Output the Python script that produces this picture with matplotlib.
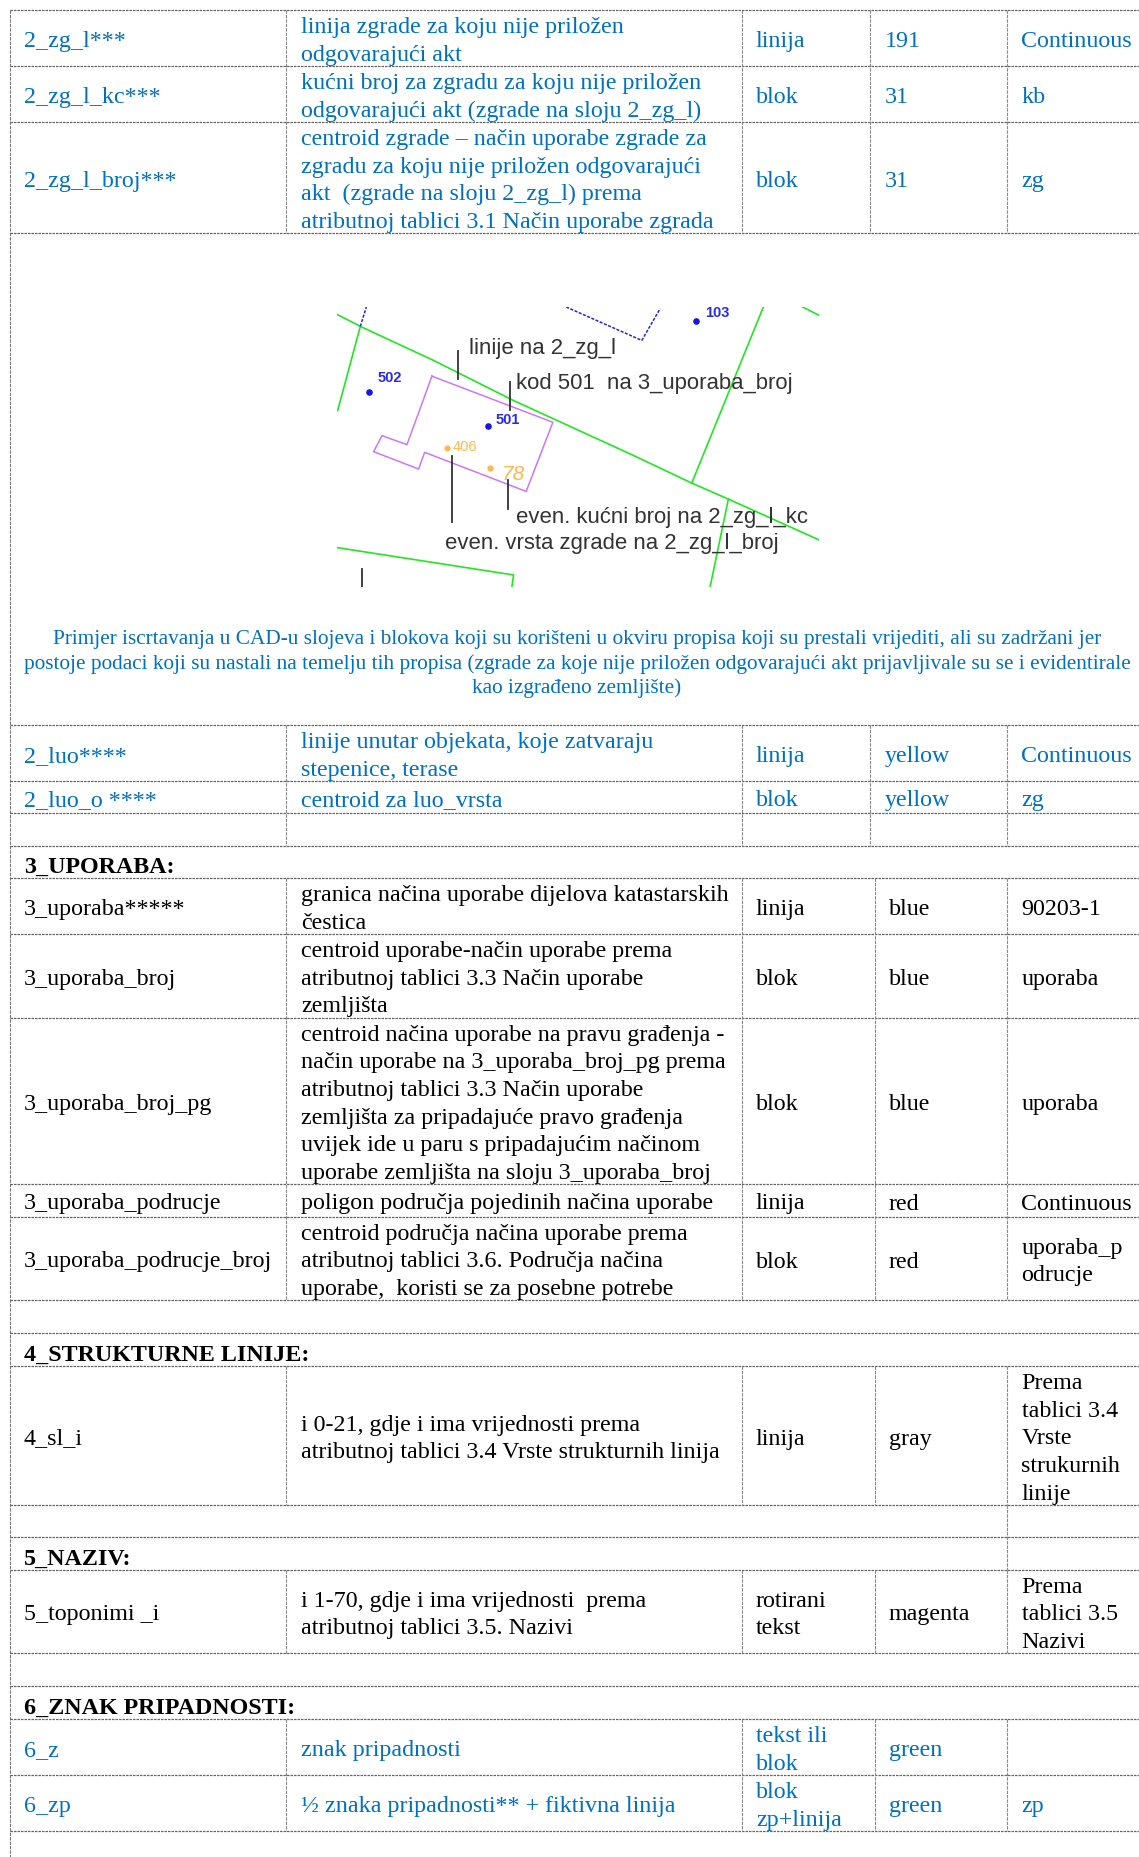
"""Cadastral layer table page with the small CAD example drawing in the middle."""

import matplotlib
matplotlib.use("Agg")
import matplotlib.pyplot as plt

W, H = 1139, 1858
BLUE = "#0070C0"
BLACK = "#000000"
SERIF = ["Liberation Serif", "DejaVu Sans"]
SANS = ["Liberation Sans", "DejaVu Sans"]

# --- table text ---------------------------------------------------------------
layers = ["2_zg_l***", "2_zg_l_kc***", "2_zg_l_broj***", "2_luo****", "2_luo_o ****",
          "3_uporaba*****", "3_uporaba_broj", "3_uporaba_broj_pg", "3_uporaba_podrucje",
          "3_uporaba_podrucje_broj", "4_sl_i", "5_toponimi _i", "6_z", "6_zp"]
descriptions = [
    ["linija zgrade za koju nije priložen", "odgovarajući akt"],
    ["kućni broj za zgradu za koju nije priložen", "odgovarajući akt (zgrade na sloju 2_zg_l)"],
    ["centroid zgrade – način uporabe zgrade za", "zgradu za koju nije priložen odgovarajući",
     "akt  (zgrade na sloju 2_zg_l) prema", "atributnoj tablici 3.1 Način uporabe zgrada"],
    ["linije unutar objekata, koje zatvaraju", "stepenice, terase"],
    ["centroid za luo_vrsta"],
    ["granica načina uporabe dijelova katastarskih", "čestica"],
    ["centroid uporabe-način uporabe prema", "atributnoj tablici 3.3 Način uporabe", "zemljišta"],
    ["centroid načina uporabe na pravu građenja -", "način uporabe na 3_uporaba_broj_pg prema",
     "atributnoj tablici 3.3 Način uporabe", "zemljišta za pripadajuće pravo građenja",
     "uvijek ide u paru s pripadajućim načinom", "uporabe zemljišta na sloju 3_uporaba_broj"],
    ["poligon područja pojedinih načina uporabe"],
    ["centroid područja načina uporabe prema", "atributnoj tablici 3.6. Područja načina",
     "uporabe,  koristi se za posebne potrebe"],
    ["i 0-21, gdje i ima vrijednosti prema", "atributnoj tablici 3.4 Vrste strukturnih linija"],
    ["i 1-70, gdje i ima vrijednosti  prema", "atributnoj tablici 3.5. Nazivi"],
    ["znak pripadnosti"],
    ["½ znaka pripadnosti** + fiktivna linija"],
]
kinds = [["linija"], ["blok"], ["blok"], ["linija"], ["blok"], ["linija"], ["blok"], ["blok"],
         ["linija"], ["blok"], ["linija"], ["rotirani", "tekst"], ["tekst ili", "blok"],
         ["blok", "zp+linija"]]
colours = ["191", "31", "31", "yellow", "yellow", "blue", "blue", "blue", "red", "red",
           "gray", "magenta", "green", "green"]
line_types = [["Continuous"], ["kb"], ["zg"], ["Continuous"], ["zg"], ["90203-1"], ["uporaba"],
              ["uporaba"], ["Continuous"], ["uporaba_p", "odrucje"],
              ["Prema", "tablici 3.4", "Vrste", "strukurnih", "linije"],
              ["Prema", "tablici 3.5", "Nazivi"], [""], ["zp"]]
is_blue = [True] * 5 + [False] * 7 + [True] * 2

row_tops = [11, 67, 123, 726, 782, 879, 935, 1018.5, 1185, 1218, 1367, 1571, 1720, 1776]
row_bottoms = [67, 123, 234, 782, 814, 935, 1018.5, 1185, 1218, 1301, 1506, 1654, 1776, 1832]
colour_x = [885] * 5 + [889] * 9

headings = ["3_UPORABA:", "4_STRUKTURNE LINIJE:", "5_NAZIV:", "6_ZNAK PRIPADNOSTI:"]
heading_tops = [849, 1336, 1540, 1689]
heading_bottoms = [881, 1369, 1573, 1722]

caption = ["Primjer iscrtavanja u CAD-u slojeva i blokova koji su korišteni u okviru propisa koji su prestali vrijediti, ali su zadržani jer",
           "postoje podaci koji su nastali na temelju tih propisa (zgrade za koje nije priložen odgovarajući akt prijavljivale su se i evidentirale",
           "kao izgrađeno zemljište)"]
caption_y = [638, 662.5, 687]

# --- grid -----------------------------------------------------------------------
h_lines = [11, 67, 123, 234, 726, 782, 814, 847, 879, 935, 1018.5, 1185, 1218, 1301, 1334,
           1367, 1506, 1538, 1571, 1654, 1687, 1720, 1776, 1832]
# (top, bottom, column x positions)
v_spans = [(11, 234, [286, 742, 870, 1007]),
           (726, 847, [286, 742, 870, 1007]),
           (879, 1301, [286, 742, 874.5, 1007]),
           (1367, 1506, [286, 742, 874.5, 1007]),
           (1506, 1571, [1007]),
           (1571, 1654, [286, 742, 874.5, 1007]),
           (1720, 1832, [286, 742, 874.5, 1007])]
left_x = 9.5

# --- example drawing, in its own picture coordinates ----------------------------
green_lines = [([50, 120, 340, 580, 935, 1115, 1225, 1497], [77, 113, 215, 335, 497, 582, 630, 752]),
               ([52, 120], [365, 113]),
               ([1115, 1330], [582, 55]),
               ([1448, 1497], [55, 80]),
               ([1225, 1170], [630, 893]),
               ([50, 580, 575], [775, 857, 893])]
blue_lines = [([120, 138], [113, 55]),
              ([738, 965, 1020], [55, 155, 60])]
purple_x = [335, 698, 618, 313, 295, 160, 185, 260, 335]
purple_y = [262, 400, 607, 490, 540, 488, 440, 467, 262]
leaders = [([412, 412], [188, 270]), ([569, 569], [278, 362]), ([395, 395], [500, 697]),
           ([563, 563], [572, 660]), ([126, 126], [838, 893])]
map_labels = [("linije na 2_zg_l", 445, 192), ("kod 501  na 3_uporaba_broj", 587, 297),
              ("even. kućni broj na 2_zg_l_kc", 587, 698),
              ("even. vrsta zgrade na 2_zg_l_broj", 375, 775)]
blue_codes = [("502", 173, 275), ("501", 525, 403), ("103", 1155, 82)]
blue_dots_x = [146, 503, 1128]
blue_dots_y = [310, 412, 98]
orange_dots_x = [380, 510]
orange_dots_y = [477, 538]


def put_lines(ax, x, top, bottom, lines, color, weight="normal", spacing=27.7):
    mid = (top + bottom) / 2
    for i, line in enumerate(lines):
        y = mid + (i - (len(lines) - 1) / 2) * spacing + 8
        ax.text(x, y, line, color=color, family=SERIF, fontsize=17.3, weight=weight,
                ha="left", va="baseline")


def draw_map(fig):
    ax = fig.add_axes([337 / W, 1 - 588 / H, 482 / W, 280 / H])
    ax.set_xlim(50, 1497)
    ax.set_ylim(893, 55)
    ax.axis("off")
    for xs, ys in green_lines:
        ax.plot(xs, ys, color="#22E622", lw=1.2)
    for xs, ys in blue_lines:
        ax.plot(xs, ys, color="#2222EE", lw=1.1, ls=(0, (2, 1)))
    ax.plot(purple_x, purple_y, color="#CC77F5", lw=1.1)
    for xs, ys in leaders:
        ax.plot(xs, ys, color="#333333", lw=1.3)
    ax.scatter(blue_dots_x, blue_dots_y, s=14, color="#1515E8", zorder=3)
    ax.scatter(orange_dots_x, orange_dots_y, s=12, color="#FFB84D", zorder=3)
    for label, x, y in map_labels:
        ax.text(x, y, label, family=SANS, fontsize=15.9, color="#333333", va="baseline")
    for label, x, y in blue_codes:
        ax.text(x, y, label, family=SANS, fontsize=10.5, weight="bold", color="#2A2AEE",
                va="baseline", clip_on=True)
    ax.text(398, 482, "406", family=SANS, fontsize=10.5, color="#FFB84D", va="baseline")
    ax.text(545, 570, "78", family=SANS, fontsize=15, style="italic", color="#FFB84D",
            va="baseline")


def main():
    fig = plt.figure(figsize=(W / 100, H / 100), dpi=100)
    ax = fig.add_axes([0, 0, 1, 1])
    ax.set_xlim(0, W)
    ax.set_ylim(H, 0)
    ax.axis("off")

    for y in h_lines:
        ax.plot([left_x, W], [y, y], color="#666666", lw=0.9, ls=(0, (2, 0.8)))
    ax.plot([left_x, left_x], [11, H], color="#777777", lw=0.8, ls=(0, (3, 1)))
    for top, bottom, xs in v_spans:
        for x in xs:
            ax.plot([x, x], [top, bottom], color="#888888", lw=0.8, ls=(0, (3, 1)))

    for i, name in enumerate(layers):
        c = BLUE if is_blue[i] else BLACK
        top, bottom = row_tops[i], row_bottoms[i]
        put_lines(ax, 24, top, bottom, [name], c)
        put_lines(ax, 301, top, bottom, descriptions[i], c)
        put_lines(ax, 756, top, bottom, kinds[i], c)
        put_lines(ax, colour_x[i], top, bottom, [colours[i]], c)
        put_lines(ax, 1021.5, top, bottom, line_types[i], c)

    for name, top, bottom in zip(headings, heading_tops, heading_bottoms):
        put_lines(ax, 24, top, bottom, [name], BLACK, weight="bold")

    for line, y in zip(caption, caption_y):
        ax.text(577, y + 6, line, color=BLUE, family=SERIF, fontsize=15.35,
                ha="center", va="baseline")

    draw_map(fig)
    fig.savefig("out.png", dpi=100, facecolor="white")


if __name__ == "__main__":
    main()
